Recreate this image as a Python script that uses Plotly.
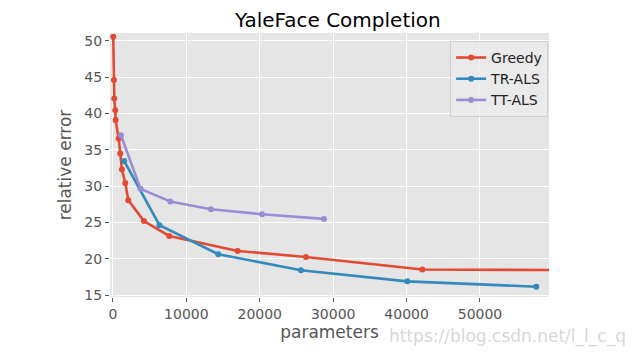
import plotly.graph_objects as go

greedy_x = [40, 136, 180, 313, 370, 780, 1000, 1230, 1680, 2090, 4220, 7670, 16990, 26290, 42140, 70000]
greedy_y = [50.55, 44.6, 42.06, 40.45, 39.08, 36.56, 34.5, 32.3, 30.45, 28.08, 25.2, 23.16, 21.1, 20.27, 18.54, 18.45]

trals_x = [1540, 6340, 14350, 25610, 40090, 57670]
trals_y = [33.45, 24.63, 20.65, 18.45, 16.92, 16.18]

ttals_x = [1090, 3770, 7810, 13350, 20300, 28750]
ttals_y = [37.0, 29.63, 27.9, 26.83, 26.14, 25.5]

x_ticks = [0, 10000, 20000, 30000, 40000, 50000]
y_ticks = [15, 20, 25, 30, 35, 40, 45, 50]

font = "DejaVu Sans"
fig = go.Figure()
for name, xs, ys, col in [("Greedy", greedy_x, greedy_y, "#E24A33"),
                          ("TR-ALS", trals_x, trals_y, "#348ABD"),
                          ("TT-ALS", ttals_x, ttals_y, "#988ED5")]:
    fig.add_trace(go.Scatter(x=xs, y=ys, name=name, mode="lines+markers",
                             line=dict(color=col, width=2.6),
                             marker=dict(color=col, size=6)))

fig.update_layout(
    width=638, height=357,
    margin=dict(l=102, r=97, t=25, b=68, autoexpand=False),
    paper_bgcolor="white", plot_bgcolor="#E5E5E5",
    font=dict(family=font, color="#555555", size=14),
    title=dict(text="YaleFace Completion", x=0.517, xanchor="center", y=0.966, yanchor="middle",
               font=dict(family=font, size=20, color="black")),
    showlegend=True,
    legend=dict(x=0.998, y=0.97, xanchor="right", yanchor="top",
                bgcolor="rgba(235,235,235,0.85)", bordercolor="#D0D0D0", borderwidth=1,
                font=dict(family=font, size=14, color="#222222"),
                itemwidth=30, tracegroupgap=0),
)
fig.update_xaxes(range=[-400, 59400], tickvals=x_ticks, ticktext=[str(v) for v in x_ticks],
                 showgrid=True, gridcolor="white", gridwidth=1.2, zeroline=False,
                 ticks="outside", ticklen=4, tickcolor="#555555", automargin=False,
                 tickfont=dict(size=14, color="#555555"),
                 title=dict(text="parameters", font=dict(size=17, color="#555555"), standoff=4),
                 showline=False)
fig.update_yaxes(range=[14.77, 51.05], tickvals=y_ticks, ticktext=[str(v) for v in y_ticks],
                 showgrid=True, gridcolor="white", gridwidth=1.2, zeroline=False,
                 ticks="outside", ticklen=4, tickcolor="#555555", automargin=False,
                 tickfont=dict(size=14, color="#555555"),
                 title=dict(text="relative error", font=dict(size=17, color="#555555"), standoff=8),
                 showline=False)
fig.add_annotation(text="https://blog.csdn.net/l_l_c_q", xref="paper", yref="paper",
                   x=1.0, y=-0.104, xanchor="right", yanchor="top", xshift=79, showarrow=False,
                   font=dict(family=font, size=17, color="rgba(210,210,210,0.9)"))
fig.write_html("out.html")
